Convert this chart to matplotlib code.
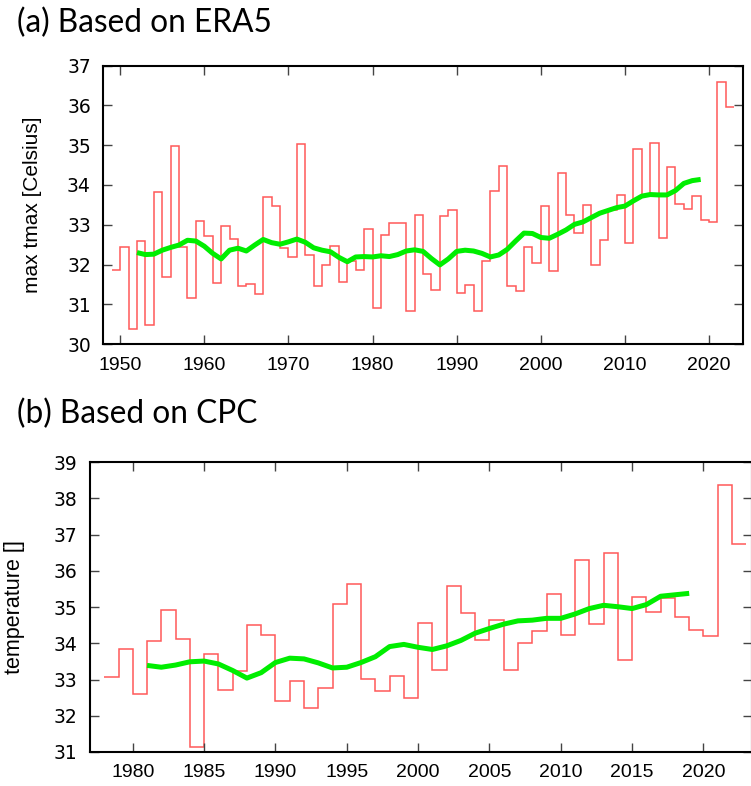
import matplotlib
matplotlib.use("Agg")
import matplotlib.pyplot as plt
import numpy as np

# (a) ERA5 yearly max tmax, step segments start at these years
era5_years = list(range(1949, 2023))
era5_vals = [31.87, 32.45, 30.37, 32.60, 30.48, 33.83, 31.68, 34.99, 32.45, 31.17,
             33.10, 32.71, 31.54, 32.97, 32.65, 31.47, 31.50, 31.26, 33.70, 33.48,
             32.42, 32.20, 35.02, 32.25, 31.47, 31.98, 32.47, 31.57, 32.09, 31.85,
             32.90, 30.91, 32.73, 33.05, 33.04, 30.82, 33.24, 31.76, 31.37, 33.23,
             33.37, 31.29, 31.49, 30.84, 32.09, 33.84, 34.49, 31.46, 31.33, 32.45,
             32.04, 33.48, 31.84, 34.30, 33.24, 32.80, 33.50, 32.00, 32.61, 33.38,
             33.75, 32.55, 34.90, 33.75, 35.06, 32.67, 34.44, 33.53, 33.40, 33.73,
             33.12, 33.08, 36.60, 35.97]

# smoothed curve (a)
era5_smooth_years = list(range(1952, 2020))
era5_smooth = [32.30, 32.25, 32.26, 32.36, 32.43, 32.49, 32.61, 32.59, 32.46, 32.28,
               32.14, 32.36, 32.41, 32.34, 32.49, 32.63, 32.55, 32.51, 32.57, 32.64,
               32.56, 32.42, 32.36, 32.32, 32.18, 32.07, 32.19, 32.20, 32.19, 32.22,
               32.20, 32.25, 32.34, 32.37, 32.33, 32.15, 31.99, 32.14, 32.33, 32.36,
               32.34, 32.28, 32.19, 32.24, 32.38, 32.59, 32.79, 32.78, 32.68, 32.66,
               32.76, 32.87, 33.01, 33.07, 33.18, 33.29, 33.36, 33.43, 33.47, 33.60,
               33.72, 33.76, 33.75, 33.75, 33.86, 34.04, 34.11, 34.14]

# (b) CPC yearly values
cpc_years = list(range(1978, 2023))
cpc_vals = [33.07, 33.83, 32.60, 34.07, 34.92, 34.13, 31.14, 33.70, 32.71, 33.24,
            34.51, 34.22, 32.41, 32.95, 32.21, 32.78, 35.09, 35.64, 33.01, 32.68,
            33.09, 32.48, 34.57, 33.27, 35.57, 34.83, 34.09, 34.64, 33.27, 34.00,
            34.33, 35.35, 34.24, 36.29, 34.54, 36.50, 33.55, 35.27, 34.86, 35.25,
            34.73, 34.36, 34.21, 38.38, 36.75]

cpc_smooth_years = list(range(1981, 2020))
cpc_smooth = [33.39, 33.34, 33.40, 33.49, 33.51, 33.43, 33.25, 33.04, 33.19, 33.47,
              33.59, 33.57, 33.46, 33.32, 33.34, 33.47, 33.63, 33.91, 33.97, 33.89,
              33.83, 33.93, 34.08, 34.28, 34.41, 34.53, 34.62, 34.64, 34.69, 34.69,
              34.81, 34.96, 35.05, 35.01, 34.96, 35.07, 35.30, 35.34, 35.38]

red = "#ff3030"
green = "#00ee00"
xfont = ["Liberation Sans Narrow", "Liberation Sans", "DejaVu Sans"]
yfont = ["DejaVu Sans"]

fig = plt.figure(figsize=(7.51, 7.86), dpi=100)


def style_axes(ax, xticks, yticks):
    ax.set_xticks(xticks)
    ax.set_yticks(yticks)
    ax.tick_params(direction="in", length=6.5, width=1, color="#444444",
                   top=True, right=True, pad=9)
    for s in ax.spines.values():
        s.set_linewidth(1.5)
    for lab in ax.get_xticklabels():
        lab.set_family(xfont)
        lab.set_fontsize(14)
    for lab in ax.get_yticklabels():
        lab.set_family(yfont)
        lab.set_fontsize(13.5)


# panel a
ax1 = fig.add_axes([0.1376, 0.5623, 0.8514, 0.3541])
edges = np.append(era5_years, era5_years[-1] + 1)
ax1.stairs(era5_vals, edges, baseline=None, color=red, lw=1.1, alpha=0.8)
ax1.plot(era5_smooth_years, era5_smooth, color=green, lw=3.6, solid_capstyle="butt")
ax1.set_xlim(1948, 2024)
ax1.set_ylim(30, 37)
style_axes(ax1, range(1950, 2021, 10), range(30, 38))

# panel b
ax2 = fig.add_axes([0.1198, 0.0433, 0.8815, 0.3686])
edges = np.append(cpc_years, cpc_years[-1] + 1)
ax2.stairs(cpc_vals, edges, baseline=None, color=red, lw=1.1, alpha=0.8)
ax2.plot(cpc_smooth_years, cpc_smooth, color=green, lw=3.6, solid_capstyle="butt")
ax2.set_xlim(1977, 2023.4)
ax2.set_ylim(31, 39)
style_axes(ax2, range(1980, 2021, 5), range(31, 40))

# titles and axis labels
tfont = ["Lato", "DejaVu Sans"]
fig.text(17 / 751, 1 - 32 / 786, "(a) Based on ERA5", family=tfont,
         fontsize=22.8, va="baseline", ha="left")
fig.text(17 / 751, 1 - 423 / 786, "(b) Based on CPC", family=tfont,
         fontsize=22.8, va="baseline", ha="left")
fig.text(33 / 751, 1 - 205 / 786, "max tmax [Celsius]", rotation=90,
         family=["Liberation Sans", "DejaVu Sans"], fontsize=15,
         ha="center", va="center")
fig.text(15 / 751, 1 - 607 / 786, "temperature []", rotation=90,
         family=["Liberation Sans", "DejaVu Sans"], fontsize=15.5,
         ha="center", va="center")

fig.savefig("out.png", dpi=100)
